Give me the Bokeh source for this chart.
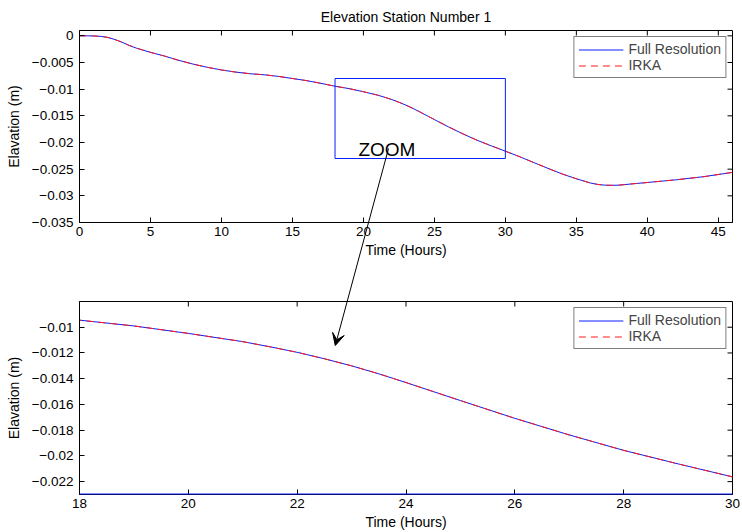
import math
from bokeh.plotting import figure
from bokeh.models import Range1d, FixedTicker, Label, Arrow, VeeHead, Span
from bokeh.layouts import column
from bokeh.embed import file_html
from bokeh.resources import INLINE

# ---- data: surface elevation at station 1 --------------------------------
time_hours = [0, 0.5, 1, 1.5, 2, 2.5, 3, 3.5, 4, 4.5, 5, 6, 7, 8, 9, 10, 11,
              12, 13, 14, 15, 16, 17, 18, 19, 20, 21, 21.5, 22, 22.5, 23,
              23.5, 24, 25, 26, 27, 28, 29, 30, 31, 32, 33, 34, 35, 36, 36.5,
              37, 37.5, 38, 39, 40, 42, 44, 46]
full_resolution = [0.0, 0.0, -0.00002, -0.0001, -0.0003, -0.0007, -0.0012,
                   -0.0018, -0.0023, -0.0027, -0.0031, -0.0038, -0.0046,
                   -0.0053, -0.0059, -0.0064, -0.0068, -0.0071, -0.0073,
                   -0.0076, -0.0080, -0.0084, -0.0089, -0.00945, -0.0099,
                   -0.01048, -0.01112, -0.01152, -0.01195, -0.01245, -0.0130,
                   -0.01362, -0.0143, -0.0157, -0.01708, -0.01837, -0.01957,
                   -0.02062, -0.02163, -0.02266, -0.02376, -0.02485, -0.0259,
                   -0.0268, -0.0276, -0.02786, -0.0280, -0.02803, -0.0280,
                   -0.02774, -0.0275, -0.0270, -0.0264, -0.0256]
irka = [0.0, 0.0, -0.00002, -0.0001, -0.0003, -0.0007, -0.0012,
        -0.0018, -0.0023, -0.0027, -0.0031, -0.0038, -0.0046,
        -0.0053, -0.0059, -0.0064, -0.0068, -0.0071, -0.0073,
        -0.0076, -0.0080, -0.0084, -0.0089, -0.00945, -0.0099,
        -0.01048, -0.01112, -0.01152, -0.01195, -0.01245, -0.0130,
        -0.01362, -0.0143, -0.0157, -0.01708, -0.01837, -0.01957,
        -0.02062, -0.02163, -0.02266, -0.02376, -0.02485, -0.0259,
        -0.0268, -0.0276, -0.02786, -0.0280, -0.02803, -0.0280,
        -0.02774, -0.0275, -0.0270, -0.0264, -0.0256]

# zoom window (hours, metres)
zoom_time = [18, 30]
zoom_elev = [-0.023, -0.008]

# ticks
top_x_ticks = [0, 5, 10, 15, 20, 25, 30, 35, 40, 45]
top_x_labels = ["0", "5", "10", "15", "20", "25", "30", "35", "40", "45"]
top_y_ticks = [0, -0.005, -0.01, -0.015, -0.02, -0.025, -0.03, -0.035]
top_y_labels = ["0", "\u22120.005", "\u22120.01", "\u22120.015", "\u22120.02",
                "\u22120.025", "\u22120.03", "\u22120.035"]
bot_x_ticks = [18, 20, 22, 24, 26, 28, 30]
bot_x_labels = ["18", "20", "22", "24", "26", "28", "30"]
bot_y_ticks = [-0.01, -0.012, -0.014, -0.016, -0.018, -0.02, -0.022]
bot_y_labels = ["\u22120.01", "\u22120.012", "\u22120.014", "\u22120.016",
                "\u22120.018", "\u22120.02", "\u22120.022"]

# ---- layout constants -----------------------------------------------------
FONT = "Liberation Sans"
W = 742
TOP_H, BOT_H = 260, 272
LEFT, RIGHT = 79, 10
FRAME_W, FRAME_H = W - LEFT - RIGHT, 196
TOP_BORDER_1, TOP_BORDER_2 = 28, 41
TICK_LEN = 5
BLUE, RED = "#0a1eff", "#ff1a1a"


def style_axis(ax, ticks, labels):
    ax.ticker = FixedTicker(ticks=ticks)
    ax.major_label_overrides = dict(zip(ticks, labels))
    ax.major_tick_in = TICK_LEN
    ax.major_tick_out = 0
    ax.minor_tick_in = 0
    ax.minor_tick_out = 0
    ax.axis_line_color = "black"
    ax.major_tick_line_color = "black"
    ax.major_label_text_font = FONT
    ax.major_label_text_font_size = "13.5px"
    ax.major_label_text_color = "black"
    ax.axis_label_text_font = FONT
    ax.axis_label_text_font_style = "normal"
    ax.axis_label_text_color = "black"
    ax.axis_label_text_font_size = "14px"


def make_panel(height, top_border, xr, yr, xt, xl, yt, yl, title=None):
    p = figure(width=W, height=height, x_range=Range1d(*xr),
               y_range=Range1d(*yr), output_backend="svg",
               toolbar_location=None, min_border_left=LEFT,
               min_border_right=RIGHT, min_border_top=top_border,
               min_border_bottom=height - top_border - FRAME_H)
    p.grid.visible = False
    p.outline_line_color = "black"
    p.background_fill_color = "white"
    p.border_fill_color = "white"
    if title:
        p.title.text = title
        p.title.align = "center"
        p.title.text_font = FONT
        p.title.text_font_size = "14px"
        p.title.text_font_style = "normal"
        p.title.text_color = "black"
        p.title.text_line_height = 0.9
        p.title.standoff = 12
    xa, ya = p.xaxis[0], p.yaxis[0]
    style_axis(xa, xt, xl)
    style_axis(ya, yt, yl)
    xa.axis_label = "Time (Hours)"
    xa.major_label_standoff = 4
    xa.axis_label_standoff = 3
    ya.axis_label = "Elavation (m)"
    ya.major_label_standoff = 6
    ya.axis_label_standoff = 7

    # inward tick marks mirrored on the top and right edges of the box
    p.ray(x=xt, y=[yr[1]] * len(xt), length=TICK_LEN, length_units="screen",
          angle=-math.pi / 2, line_color="black", line_width=1)
    p.ray(x=[xr[1]] * len(yt), y=yt, length=TICK_LEN, length_units="screen",
          angle=math.pi, line_color="black", line_width=1)

    p.line(time_hours, full_resolution, line_color=BLUE, line_width=1,
           legend_label="Full Resolution")
    p.line(time_hours, irka, line_color=RED, line_width=1,
           line_dash="7 5", legend_label="IRKA")
    lg = p.legend[0]
    lg.location = "top_right"
    lg.margin = 6
    lg.padding = 4
    lg.spacing = 0
    lg.label_height = 15
    lg.glyph_height = 15
    lg.glyph_width = 45
    lg.label_standoff = 5
    lg.label_text_font = FONT
    lg.label_text_font_size = "14px"
    lg.border_line_color = "black"
    lg.border_line_width = 1.2
    lg.background_fill_alpha = 1
    return p


top = make_panel(TOP_H, TOP_BORDER_1, (0, 46), (-0.035, 0.001),
                 top_x_ticks, top_x_labels, top_y_ticks, top_y_labels,
                 title="Elevation Station Number 1")
bot = make_panel(BOT_H, TOP_BORDER_2, tuple(zoom_time), tuple(zoom_elev),
                 bot_x_ticks, bot_x_labels, bot_y_ticks, bot_y_labels)

# zoom window outline on the overview, and its lower edge on the close-up
top.quad(left=zoom_time[0], right=zoom_time[1], bottom=zoom_elev[0],
         top=zoom_elev[1], fill_color=None, line_color=BLUE, line_width=1)
bot.add_layout(Span(location=zoom_elev[0], dimension="width",
                    line_color=BLUE, line_width=2, level="overlay"))

top.add_layout(Label(x=19.65, y=-0.0214, text="ZOOM", text_font=FONT,
                     text_font_size="19px", text_color="black",
                     text_baseline="alphabetic"))


# ---- arrow from the ZOOM label down into the close-up ---------------------
def to_page(x, y, xr, yr, canvas_top, border_top):
    px = LEFT + (x - xr[0]) / (xr[1] - xr[0]) * FRAME_W
    py = canvas_top + border_top + (yr[1] - y) / (yr[1] - yr[0]) * FRAME_H
    return px, py


top_geom = ((0, 46), (-0.035, 0.001), 0, TOP_BORDER_1)
bot_geom = (tuple(zoom_time), tuple(zoom_elev), TOP_H, TOP_BORDER_2)
sx, sy = to_page(21.77, -0.02104, *top_geom)        # just under "ZOOM"
ex, ey = to_page(22.70, -0.01137, *bot_geom)        # arrow tip

# transparent layer laid over both panels (same horizontal frame, full page
# height) so the arrow can cross the gap between them; its ranges are in
# page pixels
PAGE_H = TOP_H + BOT_H
overlay = figure(width=W, height=PAGE_H, x_range=Range1d(LEFT, W - RIGHT),
                 y_range=Range1d(PAGE_H, 0), output_backend="svg",
                 toolbar_location=None, x_axis_type=None, y_axis_type=None,
                 min_border_left=LEFT, min_border_right=RIGHT,
                 min_border_top=0, min_border_bottom=0)
overlay.grid.visible = False
overlay.outline_line_color = None
overlay.background_fill_alpha = 0
overlay.border_fill_alpha = 0
overlay.margin = (-PAGE_H, 0, 0, 0)
overlay.add_layout(Arrow(end=VeeHead(size=12, fill_color="black",
                                     line_color="black", line_width=1),
                         x_start=sx, y_start=sy, x_end=ex, y_end=ey,
                         line_color="black", line_width=1))

layout = column(top, bot, overlay, spacing=0)
open("out.html", "w").write(file_html(layout, INLINE))
